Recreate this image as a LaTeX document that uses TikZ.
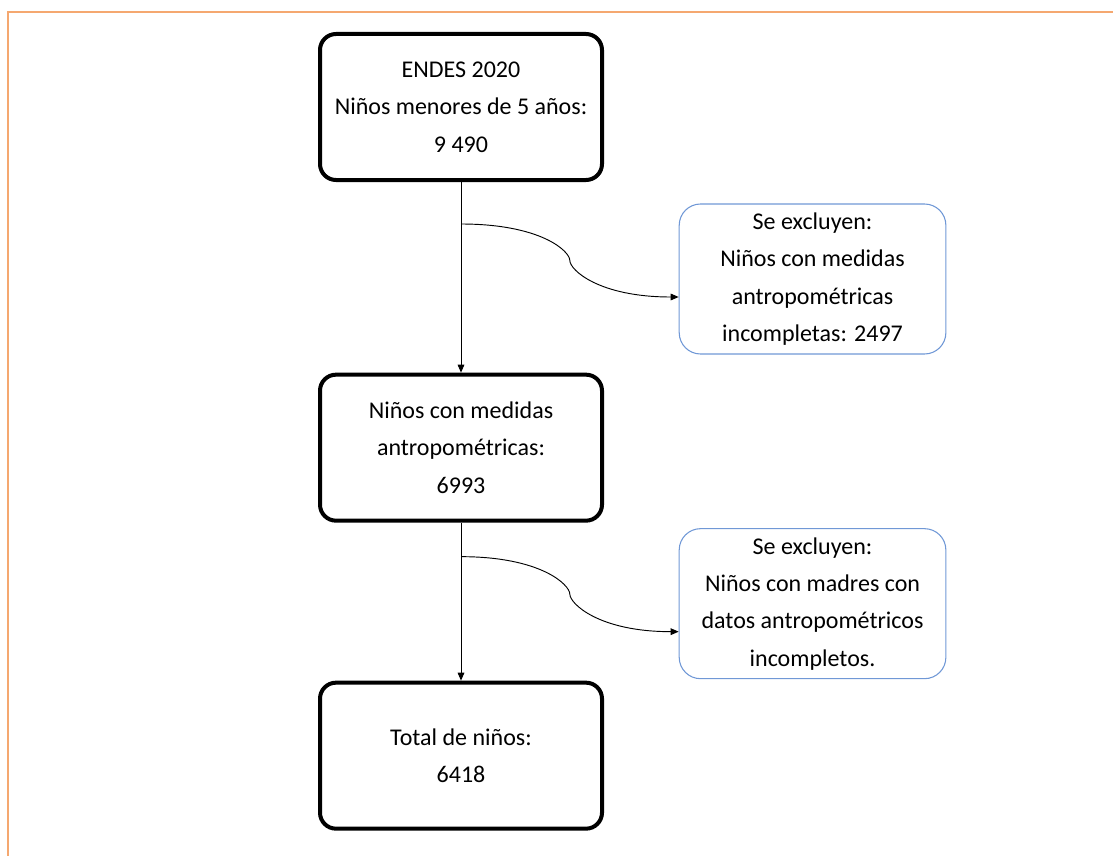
\documentclass[tikz,border=0pt]{standalone}
\usepackage{fontspec}
\setmainfont{Carlito}
\usetikzlibrary{arrows.meta,positioning,calc}
\definecolor{framecol}{RGB}{245,168,112}
\definecolor{exclcol}{RGB}{112,152,214}

\begin{document}
\begin{tikzpicture}[
  x=1pt,
  y=1pt,
  font=\fontsize{18}{28}\selectfont,
  stage/.style={draw, line width=3pt, rounded corners=12pt, align=center, minimum width=211.5pt, minimum height=109.5pt},
  excl/.style={draw=exclcol, line width=0.8pt, rounded corners=16pt, align=center, minimum width=200pt, minimum height=112.5pt},
  arr/.style={-{Triangle[length=6pt,width=5pt]}, line width=0.7pt}
]
\useasboundingbox (0,0) rectangle (834.75,-642);
\draw[framecol, line width=1.5pt] (6,-642) -- (6,-9) -- (834.75,-9);

\node[stage] (endes) at (345.75,-80.25) {ENDES 2020\\Niños menores de 5 años:\\9 490};
\node[stage, below=143pt of endes] (medidas) {Niños con medidas\\antropométricas:\\6993};
\node[stage, below=118.5pt of medidas] (total) {Total de niños:\\6418};

\node[excl, right=56pt of endes, yshift=-129pt] (excl1) {Se excluyen:\\Niños con medidas\\antropométricas\\incompletas: 2497};
\node[excl, right=56pt of medidas, yshift=-117pt] (excl2) {Se excluyen:\\Niños con madres con\\datos antropométricos\\incompletos.};

\draw[arr] (endes) -- (medidas);
\draw[arr] (medidas) -- (total);

\coordinate (split1) at ([yshift=-31.5pt]endes.south);
\coordinate (end1) at ([yshift=-13.5pt]excl1.west);
\coordinate (split2) at ([yshift=-25.5pt]medidas.south);
\coordinate (end2) at ([yshift=-21pt]excl2.west);

\draw[arr] (split1) .. controls +(60,0) and +(0,7) .. ($(split1)!0.5!(end1)$) .. controls +(0,-7) and +(-60,0) .. (end1);
\draw[arr] (split2) .. controls +(60,0) and +(0,7) .. ($(split2)!0.5!(end2)$) .. controls +(0,-7) and +(-60,0) .. (end2);

\end{tikzpicture}
\end{document}
